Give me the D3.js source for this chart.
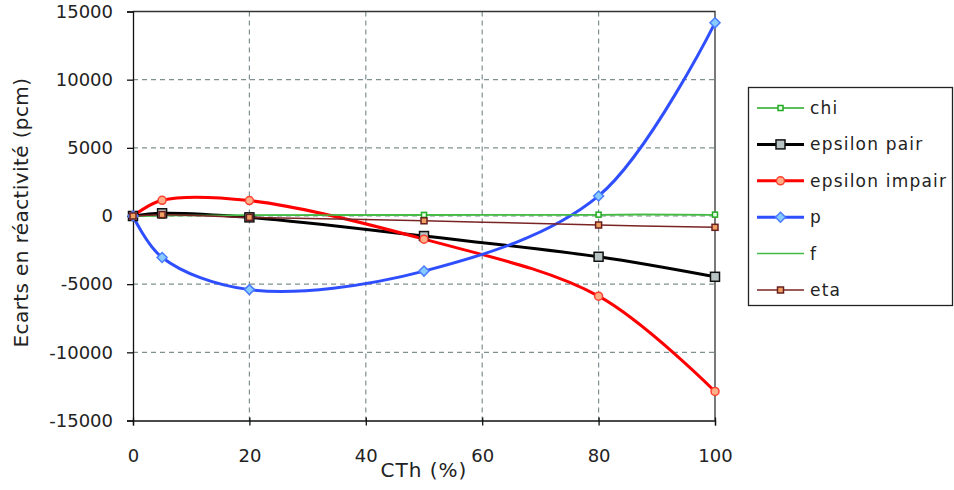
<!DOCTYPE html>
<html><head><meta charset="utf-8">
<script src="https://cdn.jsdelivr.net/npm/d3@7"></script>
<style>body{margin:0;background:#fff}svg{display:block}text{font-family:"DejaVu Sans",sans-serif;fill:#222}</style>
</head><body><svg id="c" width="954" height="490"></svg>
<script>
const xValues = [0, 5, 20, 50, 80, 100];
const chi = [0, 30, 50, 80, 100, 100];
const epsilonPair = [0, 200, -100, -1470, -2990, -4460];
const epsilonImpair = [0, 1150, 1130, -1700, -5880, -12870];
const p = [0, -3040, -5400, -4040, 1470, 14170];
const f = [0, 30, 50, 80, 100, 100];
const eta = [0, 100, -100, -350, -660, -830];
const xTicks = [0, 20, 40, 60, 80, 100];
const yTicks = [-15000, -10000, -5000, 0, 5000, 10000, 15000];
const seriesNames = ["chi", "epsilon pair", "epsilon impair", "p", "f", "eta"];

const series = [
  {name: seriesNames[0], values: chi, color: "#22aa22", width: 1.5, marker: "square", size: 5, fill: "#e8ffe8", stroke: "#22aa22"},
  {name: seriesNames[1], values: epsilonPair, color: "#000000", width: 3, marker: "square", size: 9, fill: "#b8c4c4", stroke: "#111"},
  {name: seriesNames[2], values: epsilonImpair, color: "#ff0000", width: 3, marker: "circle", size: 8, fill: "#ffb088", stroke: "#ff4030"},
  {name: seriesNames[3], values: p, color: "#2f4fff", width: 3, marker: "diamond", size: 10, fill: "#88ccff", stroke: "#4a7cff"},
  {name: seriesNames[4], values: f, color: "#44bb44", width: 1.5, marker: null},
  {name: seriesNames[5], values: eta, color: "#7a2424", width: 1.5, marker: "square", size: 6, fill: "#f0a060", stroke: "#6a2020"}
];

const svg = d3.select("#c");
const L = 133, R = 715, T = 11.5, B = 420.5;
const x = d3.scaleLinear().domain([0, 100]).range([L, R]);
const y = d3.scaleLinear().domain([-15000, 15000]).range([B, T]);

// grid
const grid = svg.append("g").attr("stroke", "#7f9090").attr("stroke-width", 1.2).attr("stroke-dasharray", "5,4");
xTicks.filter(d => d > 0 && d < 100).forEach(d => grid.append("line").attr("x1", x(d)).attr("x2", x(d)).attr("y1", T).attr("y2", B));
yTicks.filter(d => d > -15000 && d < 15000).forEach(d => grid.append("line").attr("x1", L).attr("x2", R).attr("y1", y(d)).attr("y2", y(d)));

// border top/right
svg.append("path").attr("d", `M${L},${T}H${R}V${B}`).attr("fill", "none").attr("stroke", "#333").attr("stroke-width", 1.3);

// axes
const fmt = d => String(d);
const yAxis = svg.append("g").attr("transform", `translate(${L},0)`).call(d3.axisLeft(y).tickValues(yTicks).tickSize(6).tickPadding(14).tickFormat(fmt));
const xAxis = svg.append("g").attr("transform", `translate(0,${B})`).call(d3.axisBottom(x).tickValues(xTicks).tickSize(5).tickPadding(23.5).tickFormat(fmt));
[yAxis, xAxis].forEach(a => {
  a.select(".domain").attr("stroke", "#111").attr("stroke-width", 1.3);
  a.selectAll(".tick line").attr("stroke", "#111").attr("stroke-width", 1.3);
  a.selectAll("text").attr("font-size", 18).attr("fill", "#222").style("font-family", '"DejaVu Sans",sans-serif');
});
xAxis.selectAll(".tick line").attr("y1", -3);

svg.append("text").attr("x", 424).attr("y", 477).attr("text-anchor", "middle").attr("font-size", 20).attr("letter-spacing", 1).text("CTh (%)");
svg.append("text").attr("transform", `translate(28,212.5) rotate(-90)`).attr("text-anchor", "middle").attr("font-size", 20).attr("letter-spacing", 0.4).text("Ecarts en réactivité (pcm)");

const line = d3.line().x((d, i) => x(xValues[i])).y(d => y(d)).curve(d3.curveCatmullRom.alpha(0.5));

function drawMarker(g, type, cx, cy, s) {
  if (type === "square") return g.append("rect").attr("x", cx - s / 2).attr("y", cy - s / 2).attr("width", s).attr("height", s);
  if (type === "circle") return g.append("circle").attr("cx", cx).attr("cy", cy).attr("r", s / 2);
  if (type === "diamond") return g.append("path").attr("d", `M${cx},${cy - s / 2}L${cx + s / 2},${cy}L${cx},${cy + s / 2}L${cx - s / 2},${cy}Z`);
}

const plot = svg.append("g");
series.forEach(s => {
  plot.append("path").datum(s.values).attr("d", line).attr("fill", "none").attr("stroke", s.color).attr("stroke-width", s.width);
});
series.forEach(s => {
  if (!s.marker) return;
  s.values.forEach((v, i) => {
    drawMarker(plot, s.marker, x(xValues[i]), y(v), s.size).attr("fill", s.fill).attr("stroke", s.stroke).attr("stroke-width", 1.5);
  });
});

// legend
const lg = svg.append("g");
lg.append("rect").attr("x", 748.5).attr("y", 87.5).attr("width", 204).attr("height", 218).attr("fill", "#fff").attr("stroke", "#222").attr("stroke-width", 1.3);
series.forEach((s, i) => {
  const yy = 108 + i * 36.4;
  lg.append("line").attr("x1", 757).attr("x2", 804).attr("y1", yy).attr("y2", yy).attr("stroke", s.color).attr("stroke-width", s.width);
  if (s.marker) drawMarker(lg, s.marker, 780.5, yy, s.size).attr("fill", s.fill).attr("stroke", s.stroke).attr("stroke-width", 1.5);
  lg.append("text").attr("x", 810).attr("y", yy + 6).attr("font-size", 17).attr("letter-spacing", 1.2).text(s.name);
});
</script></body></html>
